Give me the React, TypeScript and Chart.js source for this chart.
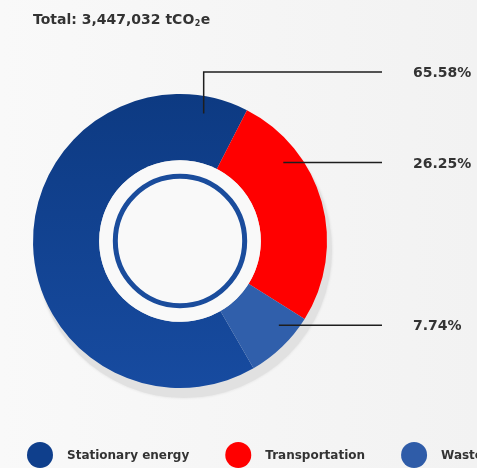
import React, { useEffect, useRef } from "react";
import { Chart, registerables } from "chart.js";

Chart.register(...registerables);

// ---- data ----
const categories = ["Stationary energy", "Transportation", "Waste"];
const shares = [65.58, 26.25, 7.74];
const percentLabels = ["65.58%", "26.25%", "7.74%"];
const totalValue = "3,447,032";
const totalUnit = ["tCO", "2", "e"];

// ---- style ----
const legendColors = ["#0f3f8c", "#ff0000", "#2f5ca8"];
const calloutFractions = [0.93, 0.27, 0.3];
const calloutElbowY: (number | null)[] = [72, null, null];
const FONT = "'DejaVu Sans', 'Open Sans', sans-serif";

const decorPlugin = {
  id: "decor",
  beforeDatasetsDraw(chart: any) {
    const meta = chart.getDatasetMeta(0);
    const arc = meta.data[0];
    if (!arc) return;
    const { x, y, outerRadius } = arc.getProps(["x", "y", "outerRadius"], true);
    const ctx = chart.ctx;
    ctx.save();
    ctx.shadowColor = "rgba(0,0,0,0.10)";
    ctx.shadowBlur = 3;
    ctx.fillStyle = "#e1e1e1";
    ctx.beginPath();
    ctx.arc(x + 4, y + 9, outerRadius + 1, 0, Math.PI * 2);
    ctx.fill();
    ctx.restore();
  },
  afterDatasetsDraw(chart: any) {
    const ctx = chart.ctx;
    const meta = chart.getDatasetMeta(0);
    const first = meta.data[0];
    if (!first) return;
    const { x, y, innerRadius, outerRadius } = first.getProps(
      ["x", "y", "innerRadius", "outerRadius"],
      true
    );
    // hole
    ctx.save();
    ctx.fillStyle = "#f9f9f9";
    ctx.beginPath();
    ctx.arc(x, y, innerRadius, 0, Math.PI * 2);
    ctx.fill();
    // inner blue ring
    ctx.strokeStyle = "#1a4c9c";
    ctx.lineWidth = 5;
    ctx.beginPath();
    ctx.arc(x, y, innerRadius * 0.8, 0, Math.PI * 2);
    ctx.stroke();
    ctx.restore();

    // callouts
    const lineEndX = 382;
    const textX = 413;
    meta.data.forEach((el: any, i: number) => {
      const p = el.getProps(["startAngle", "endAngle"], true);
      const a = p.startAngle + (p.endAngle - p.startAngle) * calloutFractions[i];
      const r = innerRadius + (outerRadius - innerRadius) * 0.74;
      const ax = x + Math.cos(a) * r;
      const ay = y + Math.sin(a) * r;
      const ly = calloutElbowY[i] ?? ay;
      ctx.save();
      ctx.strokeStyle = "#1e1e1e";
      ctx.lineWidth = 1.5;
      ctx.beginPath();
      ctx.moveTo(ax, ay);
      ctx.lineTo(ax, ly);
      ctx.lineTo(lineEndX, ly);
      ctx.stroke();
      ctx.fillStyle = "#333333";
      ctx.font = `bold 14px ${FONT}`;
      ctx.textBaseline = "middle";
      ctx.textAlign = "left";
      ctx.fillText(percentLabels[i], textX, ly + 1.5);
      ctx.restore();
    });
  },
  afterDraw(chart: any) {
    const ctx = chart.ctx;
    ctx.save();
    // title
    ctx.fillStyle = "#333333";
    ctx.textBaseline = "alphabetic";
    ctx.textAlign = "left";
    ctx.font = `bold 14px ${FONT}`;
    let tx = 33;
    const base = 24;
    const main = `Total: ${totalValue} ${totalUnit[0]}`;
    ctx.fillText(main, tx, base);
    tx += ctx.measureText(main).width + 0.5;
    ctx.font = `bold 8px ${FONT}`;
    ctx.fillText(totalUnit[1], tx, base + 2);
    tx += ctx.measureText(totalUnit[1]).width + 0.5;
    ctx.font = `bold 14px ${FONT}`;
    ctx.fillText(totalUnit[2], tx, base);

    // legend
    let lx = 27;
    const cy = 455;
    ctx.font = `bold 12px ${FONT}`;
    ctx.textBaseline = "middle";
    categories.forEach((c, i) => {
      ctx.fillStyle = legendColors[i];
      ctx.beginPath();
      ctx.arc(lx + 13, cy, 13, 0, Math.PI * 2);
      ctx.fill();
      ctx.fillStyle = "#333333";
      ctx.fillText(c, lx + 40, cy + 1);
      lx += 40 + ctx.measureText(c).width + 36;
    });
    ctx.restore();
  },
};

export default function App() {
  const canvasRef = useRef<HTMLCanvasElement | null>(null);

  useEffect(() => {
    document.body.style.margin = "0";
    const canvas = canvasRef.current;
    if (!canvas) return;
    const chart = new Chart(canvas, {
      type: "doughnut",
      data: {
        labels: categories,
        datasets: [
          {
            data: shares,
            borderWidth: 0,
            backgroundColor: (ctx: any) => {
              const i = ctx.dataIndex;
              if (i === 1) return "#ff0000";
              if (i === 2) return "#305fab";
              const area = ctx.chart.chartArea;
              if (!area) return "#123f8a";
              const g = ctx.chart.ctx.createLinearGradient(0, area.top, 0, area.bottom);
              g.addColorStop(0, "#0d3a82");
              g.addColorStop(1, "#174ba0");
              return g;
            },
            hoverOffset: 0,
          },
        ],
      },
      options: {
        animation: false,
        responsive: false,
        cutout: "55%",
        rotation: 150,
        layout: { padding: { left: 33, right: 150, top: 94, bottom: 80 } },
        plugins: {
          legend: { display: false },
          title: { display: false },
          tooltip: { enabled: false },
        },
        events: [],
      },
      plugins: [decorPlugin],
    });
    return () => chart.destroy();
  }, []);

  return (
    <div
      style={{
        position: "absolute",
        left: 0,
        top: 0,
        width: 477,
        height: 468,
        overflow: "hidden",
        background: "linear-gradient(to right, #f9f9f9, #f2f2f2)",
      }}
    >
      <canvas ref={canvasRef} width={477} height={468} style={{ display: "block" }} />
    </div>
  );
}
